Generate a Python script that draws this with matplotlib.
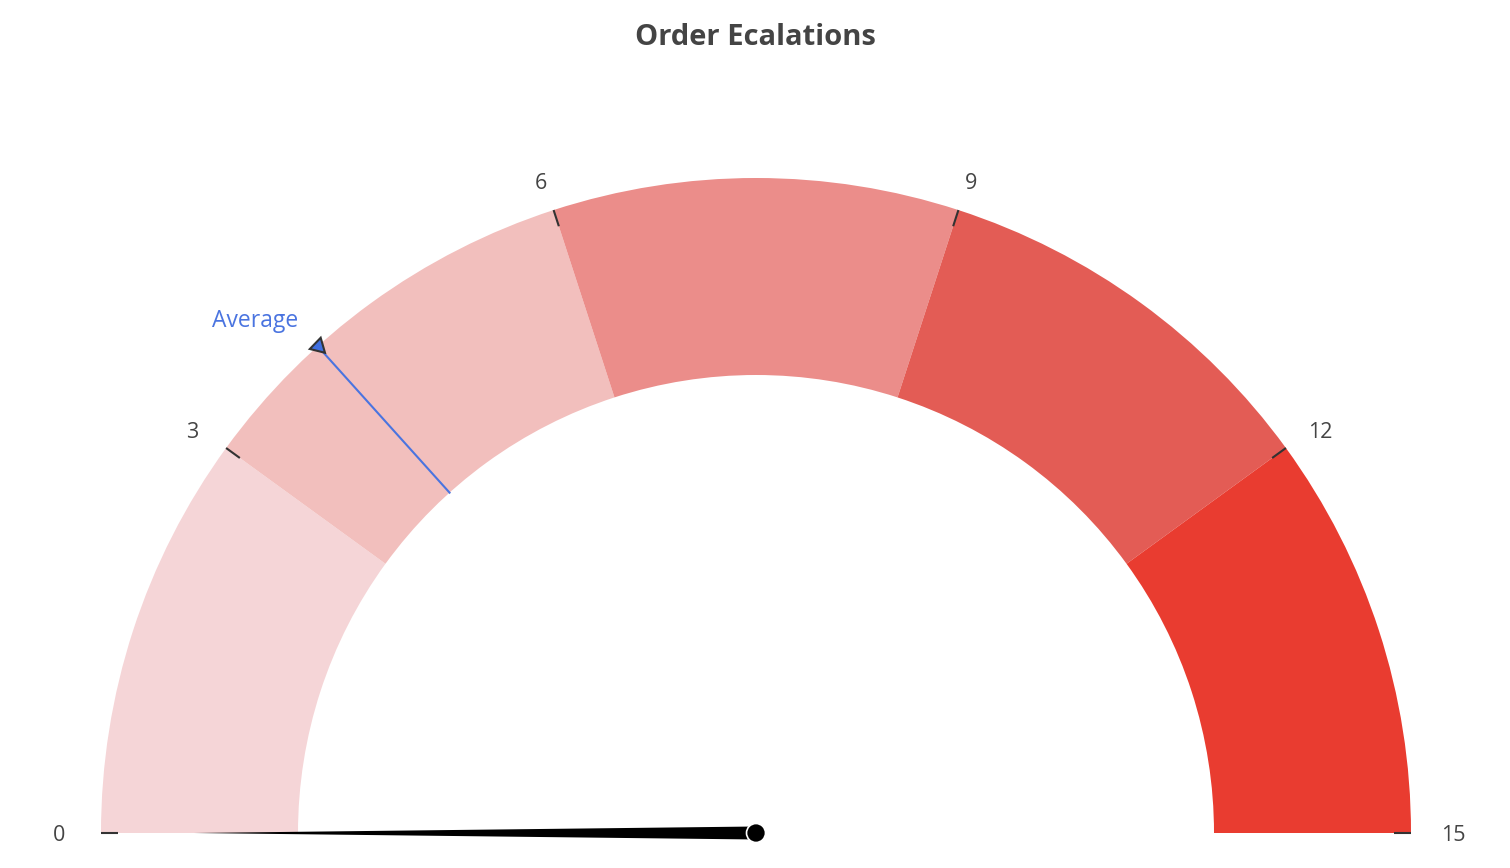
import numpy as np
import matplotlib
matplotlib.use("Agg")
import matplotlib.pyplot as plt
from matplotlib.patches import Wedge, Polygon, Circle

plt.rcParams['font.family'] = ['Open Sans', 'DejaVu Sans']

title = "Order Ecalations"
gauge_min = 0
gauge_max = 15
band_edges = [0, 3, 6, 9, 12, 15]
band_colors = ["#f5d5d7", "#f2bfbd", "#eb8d8a", "#e35c55", "#e93c30"]
tick_values = [0, 3, 6, 9, 12, 15]
needle_value = 0
average_value = 4.0
average_label = "Average"

# geometry in pixel units (y up)
W, H = 1510, 868
cx, cy = 756, H - 833
r_out, r_in = 655, 458


def ang(v):
    return 180.0 - (v - gauge_min) / (gauge_max - gauge_min) * 180.0


fig = plt.figure(figsize=(15.1, 8.68), dpi=100)
ax = fig.add_axes([0, 0, 1, 1])
ax.set_xlim(0, W)
ax.set_ylim(0, H)
ax.set_aspect('equal')
ax.axis('off')

# bands
for i in range(len(band_colors)):
    a1 = ang(band_edges[i + 1])
    a2 = ang(band_edges[i])
    ax.add_patch(Wedge((cx, cy), r_out, a1, a2, width=r_out - r_in,
                       facecolor=band_colors[i], edgecolor='none'))

# ticks and labels
for v in tick_values:
    t = np.radians(ang(v))
    c, s = np.cos(t), np.sin(t)
    ax.plot([cx + 638 * c, cx + r_out * c], [cy + 638 * s, cy + r_out * s],
            color="#333333", lw=1.5, solid_capstyle='butt')
    ax.text(cx + 697 * c, cy + 686 * s, str(v), ha='center',
            va='center_baseline', fontsize=15.5, color="#444444")

# average marker
t = np.radians(ang(average_value))
c, s = np.cos(t), np.sin(t)
ax.plot([cx + r_in * c, cx + r_out * c], [cy + r_in * s, cy + r_out * s],
        color="#4a74e0", lw=1.5)
ax.plot(cx + r_out * c, cy + r_out * s, marker=(3, 0, 106), markersize=13,
        markerfacecolor="#3f6fe0", markeredgecolor="#333333", markeredgewidth=1.5)
ax.text(255, H - 318, average_label, ha='center', va='center_baseline',
        fontsize=16.5, color="#4a74e0")

# needle
t = np.radians(ang(needle_value))
c, s = np.cos(t), np.sin(t)
tip = (cx + 562 * c, cy + 562 * s)
hw = 6.5
needle = Polygon([(cx - hw * s, cy + hw * c), tip, (cx + hw * s, cy - hw * c)],
                 closed=True, facecolor='black', edgecolor='none')
ax.add_patch(needle)
ax.add_patch(Circle((cx, cy), 9.5, facecolor='black', edgecolor='white', lw=1.2,
                    zorder=5))

fig.text(0.5, 1 - 34 / H, title, ha='center', va='center_baseline', fontsize=21,
         fontweight='bold', color="#444444")

fig.savefig("out.png", dpi=100, facecolor='white')
